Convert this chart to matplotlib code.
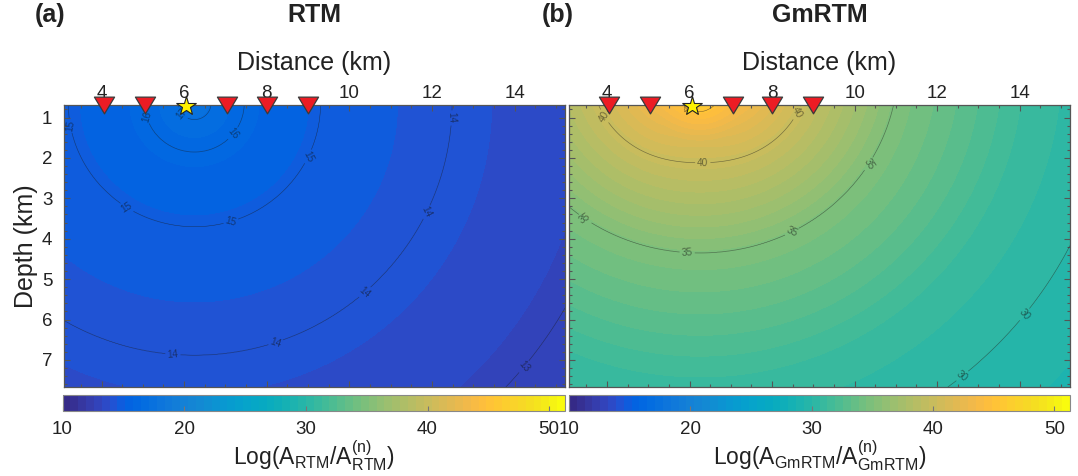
import numpy as np
import matplotlib
matplotlib.use("Agg")
import matplotlib.pyplot as plt
from matplotlib.colors import ListedColormap, Normalize
from matplotlib.cm import ScalarMappable
from matplotlib.path import Path
from matplotlib.ticker import MultipleLocator

plt.rcParams["font.family"] = ["Liberation Sans", "DejaVu Sans"]
plt.rcParams["mathtext.fontset"] = "custom"
plt.rcParams["mathtext.rm"] = "Liberation Sans"
plt.rcParams["mathtext.it"] = "Liberation Sans:italic"

# ---- survey geometry (km) ----
stations_x = [4.05, 5.05, 7.05, 8.0, 9.0]
source_x = 6.05
center_x, center_z = 6.25, 0.65          # centre of the amplitude pattern

# ---- radial amplitude profiles ----
# RTM: log amplitude ratio vs distance from the centre
rtm_r = [0.0, 0.4, 1.2, 3.05, 4.9, 6.23, 7.2, 10.3, 12.5]
rtm_v = [17.6, 17.0, 16.0, 15.0, 14.52, 14.0, 13.87, 13.0, 12.6]
rtm_lines = [13, 14, 15, 16, 17]

# GmRTM: log amplitude ratio vs effective distance
gm_r = [0.0, 0.4, 2.47, 4.7, 6.4, 8.0, 10.0, 12.5]
gm_v = [46.8, 45.0, 40.0, 35.0, 33.0, 31.0, 30.0, 29.0]
gm_lines = [30, 35, 40, 45]

cbar_ticks = [10, 20, 30, 40, 50]
clim = (10, 51.3)

# contour label anchor points
rtm_label_xy = [(3.43, 1.14), (5.01, 1.01), (5.83, 1.01), (7.07, 1.31), (8.93, 1.93),
                (12.47, 1.01), (4.57, 3.31), (7.16, 3.66), (11.87, 3.34), (10.39, 5.34),
                (8.21, 6.55), (5.73, 6.85), (14.32, 7.25)]
gm_label_xy = [(3.98, 0.94), (5.86, 0.96), (6.32, 2.05), (8.7, 0.94), (3.48, 3.49),
               (5.93, 4.55), (8.54, 3.96), (10.32, 2.13), (14.08, 5.84), (12.59, 7.37)]

# MATLAB-style parula, 64 entries
parula = [
    [0.2081, 0.1663, 0.5292], [0.2116, 0.1898, 0.5777], [0.2123, 0.2138, 0.6270], [0.2081, 0.2386, 0.6771],
    [0.1959, 0.2645, 0.7279], [0.1707, 0.2919, 0.7792], [0.1253, 0.3242, 0.8303], [0.0591, 0.3598, 0.8683],
    [0.0117, 0.3875, 0.8820], [0.0060, 0.4086, 0.8828], [0.0165, 0.4266, 0.8786], [0.0329, 0.4430, 0.8720],
    [0.0498, 0.4586, 0.8641], [0.0629, 0.4737, 0.8554], [0.0723, 0.4887, 0.8467], [0.0779, 0.5040, 0.8384],
    [0.0793, 0.5200, 0.8312], [0.0749, 0.5375, 0.8263], [0.0641, 0.5570, 0.8240], [0.0488, 0.5772, 0.8228],
    [0.0343, 0.5966, 0.8199], [0.0265, 0.6137, 0.8135], [0.0239, 0.6287, 0.8038], [0.0231, 0.6418, 0.7913],
    [0.0228, 0.6535, 0.7768], [0.0267, 0.6642, 0.7607], [0.0384, 0.6743, 0.7436], [0.0590, 0.6838, 0.7254],
    [0.0843, 0.6928, 0.7062], [0.1133, 0.7015, 0.6859], [0.1453, 0.7098, 0.6646], [0.1801, 0.7177, 0.6424],
    [0.2178, 0.7250, 0.6193], [0.2586, 0.7317, 0.5954], [0.3022, 0.7376, 0.5712], [0.3482, 0.7424, 0.5473],
    [0.3953, 0.7459, 0.5244], [0.4420, 0.7481, 0.5033], [0.4871, 0.7491, 0.4840], [0.5300, 0.7491, 0.4661],
    [0.5709, 0.7485, 0.4494], [0.6099, 0.7473, 0.4337], [0.6473, 0.7456, 0.4188], [0.6834, 0.7435, 0.4044],
    [0.7184, 0.7411, 0.3905], [0.7525, 0.7384, 0.3768], [0.7858, 0.7356, 0.3633], [0.8185, 0.7327, 0.3498],
    [0.8507, 0.7299, 0.3360], [0.8824, 0.7274, 0.3217], [0.9139, 0.7258, 0.3063], [0.9450, 0.7261, 0.2886],
    [0.9739, 0.7314, 0.2666], [0.9938, 0.7455, 0.2403], [0.9990, 0.7653, 0.2164], [0.9955, 0.7861, 0.1967],
    [0.9880, 0.8066, 0.1794], [0.9789, 0.8271, 0.1633], [0.9697, 0.8481, 0.1475], [0.9626, 0.8705, 0.1309],
    [0.9589, 0.8949, 0.1132], [0.9598, 0.9218, 0.0948], [0.9661, 0.9514, 0.0755], [0.9763, 0.9831, 0.0538]]
cmap = ListedColormap(parula)
norm = Normalize(*clim)
fill_levels = np.linspace(clim[0], clim[1], len(parula) + 1)

XLIM = (3.08, 15.22)
YLIM = (7.67, 0.69)

xs = np.linspace(XLIM[0], XLIM[1], 500)
zs = np.linspace(YLIM[1], YLIM[0], 300)
X, Z = np.meshgrid(xs, zs)
dx, dz = X - center_x, Z - center_z
R = np.hypot(dx, dz)

field_rtm = np.interp(R, rtm_r, rtm_v)
R_eff = R + np.clip(dz, 0, None) / np.maximum(R, 1.0)
field_gm = np.interp(R_eff, gm_r, gm_v)

W, H = 1078, 476
fig = plt.figure(figsize=(W / 100, H / 100), dpi=100)


def fx(px):
    return px / W


def fy(py):
    return 1 - py / H


tri = Path([(-1, 0.83), (1, 0.83), (0, -0.83), (-1, 0.83)],
           [Path.MOVETO, Path.LINETO, Path.LINETO, Path.CLOSEPOLY])

spine_c = "#555555"
panels = [
    dict(left=63.5, right=565, field=field_rtm, lines=rtm_lines, lab=rtm_label_xy,
         title="RTM", tag="(a)", tagx=50, sub="RTM"),
    dict(left=569, right=1070, field=field_gm, lines=gm_lines, lab=gm_label_xy,
         title="GmRTM", tag="(b)", tagx=558, sub="GmRTM"),
]

top_px, bot_px = 105, 387
for i, p in enumerate(panels):
    ax = fig.add_axes([fx(p["left"]), fy(bot_px), fx(p["right"] - p["left"]), (bot_px - top_px) / H])
    cf = ax.contourf(X, Z, p["field"], levels=fill_levels, cmap=cmap, norm=norm)
    cf.set_edgecolor("face")
    cf.set_linewidth(0.5)
    cs = ax.contour(X, Z, p["field"], levels=p["lines"], colors="#1a1a1a",
                    linewidths=0.45, alpha=0.5)
    ax.clabel(cs, fmt="%d", fontsize=7.2, inline=True, inline_spacing=2,
              manual=p["lab"], colors="#111111")
    ax.set_xlim(*XLIM)
    ax.set_ylim(*YLIM)

    ax.plot(stations_x, [YLIM[1]] * len(stations_x), linestyle="none", marker=tri,
            markersize=14.5, markerfacecolor="#EC1C24", markeredgecolor="#3a3a3a",
            markeredgewidth=0.9, clip_on=False, zorder=10)
    ax.plot([source_x], [YLIM[1] + 0.02], linestyle="none", marker="*", markersize=15,
            markerfacecolor="#FFF200", markeredgecolor="#222222", markeredgewidth=0.8,
            clip_on=False, zorder=11)

    ax.xaxis.set_ticks_position("both")
    ax.yaxis.set_ticks_position("both")
    ax.xaxis.set_label_position("top")
    ax.set_xticks([4, 6, 8, 10, 12, 14])
    ax.set_yticks([1, 2, 3, 4, 5, 6, 7])
    ax.xaxis.set_minor_locator(MultipleLocator(0.5))
    ax.yaxis.set_minor_locator(MultipleLocator(0.2))
    ax.tick_params(which="both", direction="in", color=spine_c, width=0.8,
                   labeltop=True, labelbottom=False, labelsize=13.5, labelcolor="#222222")
    ax.tick_params(which="major", length=4)
    ax.tick_params(which="minor", length=2.2)
    ax.tick_params(axis="x", pad=2)
    ax.tick_params(axis="y", pad=8)
    if i == 1:
        ax.tick_params(axis="y", labelleft=False)
    else:
        ax.set_ylabel("Depth (km)", fontsize=18, labelpad=3, color="#222222")
    ax.set_xlabel("Distance (km)", fontsize=18, labelpad=11, color="#222222")
    for s in ax.spines.values():
        s.set_color(spine_c)
        s.set_linewidth(0.9)

    cx = (p["left"] + p["right"]) / 2
    fig.text(fx(cx), fy(15), p["title"], fontsize=18, fontweight="bold",
             ha="center", va="center", color="#222222")
    fig.text(fx(p["tagx"]), fy(15), p["tag"], fontsize=18, fontweight="bold",
             ha="center", va="center", color="#222222")

    # colour bar
    cb_left = p["left"] - (1 if i == 0 else 0)
    cax = fig.add_axes([fx(cb_left), fy(411), fx(p["right"] - cb_left), 16 / H])
    cb = fig.colorbar(ScalarMappable(norm=norm, cmap=cmap), cax=cax, orientation="horizontal")
    cb.set_ticks(cbar_ticks)
    cb.outline.set_edgecolor("#888888")
    cb.outline.set_linewidth(0.8)
    cax.tick_params(direction="in", length=3.5, width=0.8, color="#777777",
                    labelsize=13.5, pad=7, labelcolor="#222222")
    sub = p["sub"]
    cb.set_label(r"Log(A$_{\rm %s}$/A$^{\rm (n)}_{\rm %s}$)" % (sub, sub),
                 fontsize=16.5, labelpad=0, color="#222222")

fig.savefig("out.png", dpi=100)
